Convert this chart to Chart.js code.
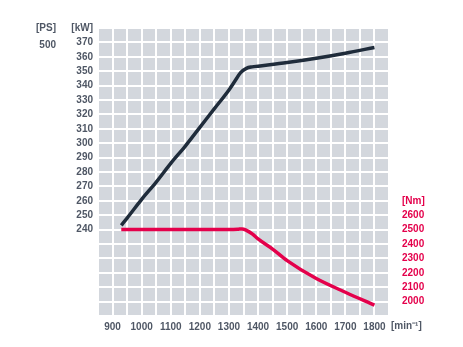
<!DOCTYPE html>
<html>
<head>
<meta charset="utf-8">
<script src="https://cdn.jsdelivr.net/npm/chart.js@4/dist/chart.umd.min.js"></script>
<style>
  html, body { margin: 0; padding: 0; background: #ffffff; }
  #wrap { width: 463px; height: 347px; }
</style>
</head>
<body>
<div id="wrap"><canvas id="c" width="463" height="347"></canvas></div>
<script>
// Engine speed (rpm) and output power (kW)
const powerRpm = [930, 950, 1000, 1050, 1100, 1150, 1200, 1250, 1300, 1320, 1340, 1360, 1380, 1400, 1500, 1600, 1700, 1800];
const powerKW  = [243, 248, 261, 273, 286, 298, 311, 324, 337, 343, 349, 352, 353, 353.5, 356, 359, 362.5, 366.5];

// Engine speed (rpm) and torque (Nm)
const torqueRpm = [930, 1000, 1100, 1200, 1300, 1330, 1345, 1360, 1380, 1400, 1450, 1500, 1600, 1700, 1800];
const torqueNm  = [2500, 2500, 2500, 2500, 2500, 2502, 2505, 2495, 2470, 2435, 2365, 2285, 2160, 2065, 1975];

// Axis tick labels
const rpmTicks = [900, 1000, 1100, 1200, 1300, 1400, 1500, 1600, 1700, 1800];
const kwTicks  = [240, 250, 260, 270, 280, 290, 300, 310, 320, 330, 340, 350, 360, 370];
const nmTicks  = [2000, 2100, 2200, 2300, 2400, 2500, 2600];
const psTicks  = [500];

// Units
const unitRpm = '[min\u207B\u00B9]';
const unitKW = '[kW]';
const unitNm = '[Nm]';
const unitPS = '[PS]';

// Scale ranges
const rpmMin = 850, rpmMax = 1850;
const kwMin = 180, kwMax = 380;
const kwPerPS = 0.73549875;
// torque axis shares the kW grid: 2500 Nm sits on 240 kW, 10 Nm per kW
const nmAt = kw => 2500 + (kw - 240) * 10;

const textGrey = '#4f5765';
const red = '#e4004b';
const navy = '#1f2c3b';
const font = { family: '"Liberation Sans", Arial, sans-serif', size: 10, weight: 'bold' };

const plotBackground = {
  id: 'plotBackground',
  beforeDraw(chart) {
    const { ctx, chartArea: a } = chart;
    ctx.save();
    ctx.fillStyle = '#d3d7dd';
    ctx.fillRect(a.left, a.top, a.right - a.left, a.bottom - a.top);
    ctx.restore();
  }
};

const rpmUnitLabel = {
  id: 'rpmUnitLabel',
  afterDraw(chart) {
    const x = chart.scales.x;
    const { ctx } = chart;
    ctx.save();
    ctx.font = `${font.weight} ${font.size}px ${font.family}`;
    ctx.fillStyle = textGrey;
    ctx.textAlign = 'left';
    ctx.textBaseline = 'middle';
    ctx.fillText(unitRpm, x.right + 2, x.top + 4 + font.size / 2 + 1);
    ctx.restore();
  }
};

function fixedWidth(w) { return s => { s.width = w; }; }

new Chart(document.getElementById('c'), {
  type: 'line',
  data: {
    datasets: [
      {
        label: 'Power',
        data: powerRpm.map((r, i) => ({ x: r, y: powerKW[i] })),
        yAxisID: 'kw',
        borderColor: navy,
        borderWidth: 3.5,
        pointRadius: 0,
        cubicInterpolationMode: 'monotone',
        fill: false
      },
      {
        label: 'Torque',
        data: torqueRpm.map((r, i) => ({ x: r, y: torqueNm[i] })),
        yAxisID: 'nm',
        borderColor: red,
        borderWidth: 3.5,
        pointRadius: 0,
        cubicInterpolationMode: 'monotone',
        fill: false
      }
    ]
  },
  options: {
    responsive: false,
    animation: false,
    events: [],
    layout: { padding: { top: 28, left: 0, right: 0, bottom: 0 } },
    plugins: { legend: { display: false }, tooltip: { enabled: false } },
    scales: {
      x: {
        type: 'linear',
        min: rpmMin, max: rpmMax,
        afterFit: s => { s.height = 31; },
        border: { display: false },
        grid: { color: '#ffffff', lineWidth: 2, drawTicks: false },
        ticks: {
          stepSize: 50, autoSkip: false, maxRotation: 0, padding: 5,
          color: textGrey, font,
          callback: v => rpmTicks.includes(v) ? String(v) : ''
        }
      },
      kw: {
        type: 'linear', position: 'left', weight: 0,
        min: kwMin, max: kwMax,
        afterFit: fixedWidth(34),
        border: { display: false },
        grid: { color: '#ffffff', lineWidth: 2, drawTicks: false },
        ticks: {
          stepSize: 10, autoSkip: false, padding: 5,
          color: textGrey, font,
          callback: v => kwTicks.includes(v) ? String(v) : (v === kwMax ? unitKW : '')
        }
      },
      ps: {
        type: 'linear', position: 'left', weight: 1,
        min: kwMin / kwPerPS, max: kwMax / kwPerPS,
        afterFit: fixedWidth(64),
        afterBuildTicks: s => { s.ticks = psTicks.map(v => ({ value: v })).concat([{ value: s.max }]); },
        border: { display: false },
        grid: { display: false },
        ticks: {
          autoSkip: false, padding: 0,
          color: textGrey, font,
          callback: v => psTicks.includes(v) ? String(v) : unitPS
        }
      },
      nm: {
        type: 'linear', position: 'right',
        min: nmAt(kwMin), max: nmAt(kwMax),
        afterFit: fixedWidth(74),
        afterBuildTicks: s => { s.ticks = nmTicks.concat([2700]).map(v => ({ value: v })); },
        border: { display: false },
        grid: { display: false },
        ticks: {
          autoSkip: false, padding: 5,
          color: red, font,
          callback: v => nmTicks.includes(v) ? String(v) : unitNm
        }
      }
    }
  },
  plugins: [plotBackground, rpmUnitLabel]
});
</script>
</body>
</html>
